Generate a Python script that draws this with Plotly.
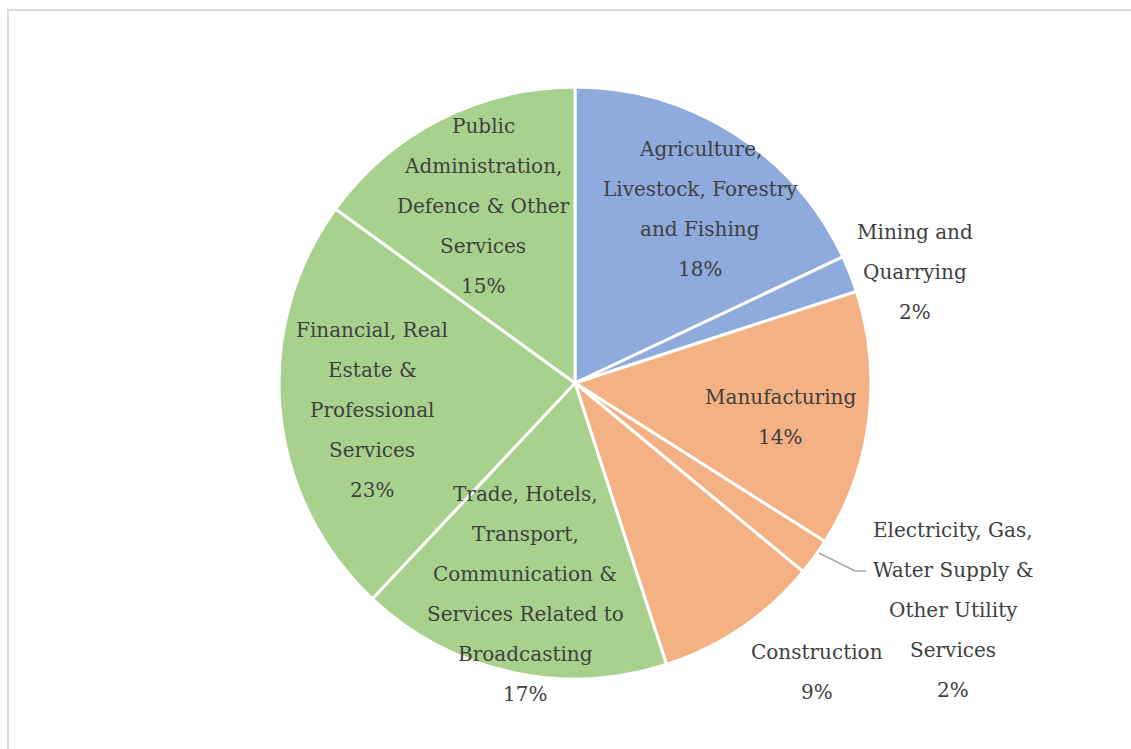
import plotly.graph_objects as go

# Sector shares (percent of total)
sectors = [
    "Agriculture, Livestock, Forestry and Fishing",
    "Mining and Quarrying",
    "Manufacturing",
    "Electricity, Gas, Water Supply & Other Utility Services",
    "Construction",
    "Trade, Hotels, Transport, Communication & Services Related to Broadcasting",
    "Financial, Real Estate & Professional Services",
    "Public Administration, Defence & Other Services",
]
shares = [18, 2, 14, 2, 9, 17, 23, 15]

# Wrapped label lines for each sector
label_lines = [
    ["Agriculture,", "Livestock, Forestry", "and Fishing"],
    ["Mining and", "Quarrying"],
    ["Manufacturing"],
    ["Electricity, Gas,", "Water Supply &", "Other Utility", "Services"],
    ["Construction"],
    ["Trade, Hotels,", "Transport,", "Communication &", "Services Related to", "Broadcasting"],
    ["Financial, Real", "Estate &", "Professional", "Services"],
    ["Public", "Administration,", "Defence & Other", "Services"],
]

BLUE, ORANGE, GREEN = "#8FAADC", "#F4B183", "#A9D18E"
colors = [BLUE, BLUE, ORANGE, ORANGE, ORANGE, GREEN, GREEN, GREEN]

W, H = 1131, 749
CX, CY, R = 575, 383, 296          # pie centre and radius in pixels
LINE_STEP = 40                     # label line spacing in pixels
TEXT_COLOR = "#404040"
FONT = "DejaVu Serif"

# Pixel centre of the first line of each label block
label_pos = [
    (700, 149), (915, 232), (780, 397), (953, 530),
    (817, 652), (525, 494), (372, 330), (483, 126),
]


def px(x):
    return x / W


def py(y):
    return 1 - y / H


fig = go.Figure(
    go.Pie(
        labels=sectors,
        values=shares,
        sort=False,
        direction="clockwise",
        rotation=0,
        marker=dict(colors=colors, line=dict(color="white", width=3)),
        textinfo="none",
        hoverinfo="label+percent",
        domain=dict(x=[px(CX - R), px(CX + R)], y=[py(CY + R), py(CY - R)]),
        showlegend=False,
    )
)

total = sum(shares)
annotations = []
for lines, share, (lx, ly) in zip(label_lines, shares, label_pos):
    pct = f"{round(100 * share / total)}%"
    for i, txt in enumerate(lines + [pct]):
        annotations.append(
            dict(
                x=px(lx), y=py(ly + i * LINE_STEP),
                xref="paper", yref="paper",
                text=txt, showarrow=False,
                xanchor="center", yanchor="middle",
                font=dict(family=FONT, size=20, color=TEXT_COLOR),
            )
        )

shapes = [
    # chart-area frame
    dict(type="rect", xref="paper", yref="paper",
         x0=px(8), x1=1.02, y0=-0.02, y1=py(10),
         line=dict(color="#D9D9D9", width=2), fillcolor="rgba(0,0,0,0)"),
    # leader line for the utilities label
    dict(type="path", xref="paper", yref="paper",
         path=f"M {px(819)},{py(553)} L {px(855)},{py(571)} L {px(866)},{py(571)}",
         line=dict(color="#A6A6A6", width=1.5)),
]

fig.update_layout(
    width=W, height=H,
    margin=dict(l=0, r=0, t=0, b=0),
    paper_bgcolor="white",
    plot_bgcolor="white",
    annotations=annotations,
    shapes=shapes,
)

fig.write_html("out.html")
